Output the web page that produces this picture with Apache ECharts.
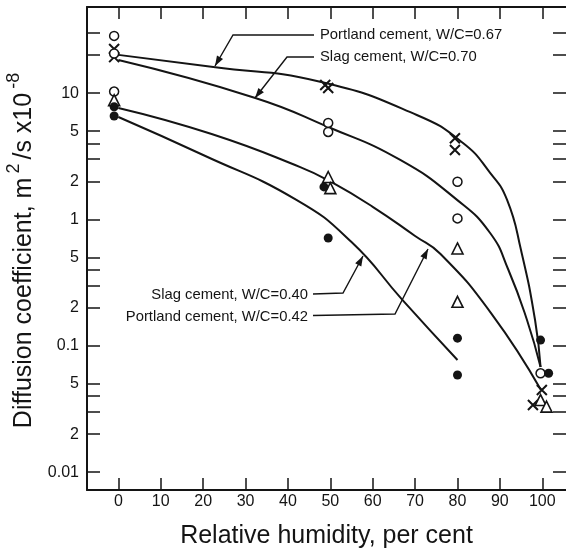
<!DOCTYPE html>
<html><head><meta charset="utf-8">
<script src="https://cdn.jsdelivr.net/npm/echarts@6/dist/echarts.min.js"></script>
<style>html,body{margin:0;padding:0;background:#fff}#c{width:566px;height:548px}</style>
</head><body><div id="c"></div>
<script>
// ---- data ----
const xTicks = [0,10,20,30,40,50,60,70,80,90,100];
const yTicks = [0.01,0.02,0.03,0.04,0.05,0.1,0.2,0.3,0.4,0.5,1,2,3,4,5,10,20,30];
const yLabelValues = [0.01,0.02,0.05,0.1,0.2,0.5,1,2,5,10];
const yLabelTexts = ['0.01','2','5','0.1','2','5','1','2','5','10'];

const seriesNames = ['Portland cement, W/C=0.67','Slag cement, W/C=0.70','Slag cement, W/C=0.40','Portland cement, W/C=0.42'];

const portland067Points = [[-1,22.4],[-1,19.3],[48.8,11.6],[49.5,11.0],[79.4,4.40],[79.4,3.55],[99.9,0.0447],[97.8,0.034]];
const slag070Points = [[-1,28.4],[-1,20.6],[-1,10.3],[49.5,5.81],[49.5,4.93],[80,1.99],[80,1.02],[99.6,0.0606]];
const slag040Points = [[-1,8.8],[49.5,2.17],[50,1.77],[80,0.59],[80,0.223],[99.6,0.0372],[101,0.033]];
const portland042Points = [[-1,7.8],[-1,6.6],[48.5,1.81],[49.5,0.714],[80,0.115],[80,0.0587],[99.6,0.111],[101.5,0.0606]];

const portland067Curve = [[0,20.1],[22.4,16.1],[47.6,12.3],[70.4,6.72],[81.3,4.03],[87.7,2.34],[91.7,1.43],[95,0.57],[98.3,0.160],[99.6,0.068]];
const slag070Curve = [[0,18.3],[32.3,9.17],[49.5,5.40],[66.5,2.96],[79.9,1.43],[87.7,0.782],[92,0.40],[96.4,0.160],[99.6,0.068]];
const slag040Curve = [[0,7.64],[22,4.75],[42.9,2.60],[50,2.0],[60,1.26],[70,0.74],[76,0.533],[88,0.180],[99.7,0.0447]];
const portland042Curve = [[0,6.48],[20,3.24],[42,1.43],[55,0.663],[67,0.231],[80,0.0772]];

// ---- rendering ----
const FONT = '"Liberation Sans", Arial, Helvetica, sans-serif';
const INK = '#141414';
const chart = echarts.init(document.getElementById('c'), null, {renderer: 'canvas'});

const X_MIN = -7.4, X_MAX = 105.6, Y_MIN = 0.00722, Y_MAX = 48.1;

function curve(name, data) {
  return {name: name, type: 'line', data: data, smooth: 0.5,
    showSymbol: false, symbol: 'none', silent: true, z: 2,
    lineStyle: {color: INK, width: 2}};
}
function points(name, data, symbol, size, fill, bw) {
  return {name: name, type: 'scatter', data: data, symbol: symbol, symbolSize: size, z: 3, silent: true,
    itemStyle: {color: fill, borderColor: INK, borderWidth: bw, opacity: 1}};
}

function yFormatter(v) {
  for (let i = 0; i < yLabelValues.length; i++) {
    if (Math.abs(Math.log10(v) - Math.log10(yLabelValues[i])) < 1e-6) return yLabelTexts[i];
  }
  return '';
}

// annotation helpers (pixel layout)
function leader(pts) {
  const els = [];
  els.push({type: 'polyline', shape: {points: pts}, style: {stroke: INK, lineWidth: 1.4, fill: null}, z: 10});
  const tip = pts[pts.length - 1], prev = pts[pts.length - 2];
  let dx = tip[0] - prev[0], dy = tip[1] - prev[1];
  const L = Math.sqrt(dx * dx + dy * dy); dx /= L; dy /= L;
  const len = 10, w = 3.5;
  const cx = tip[0] - dx * len, cy = tip[1] - dy * len;
  els.push({type: 'polygon', shape: {points: [tip, [cx - dy * w, cy + dx * w], [cx + dy * w, cy - dx * w]]},
    style: {fill: INK}, z: 10});
  return els;
}
function label(text, x, y, align) {
  return {type: 'text', x: x, y: y, z: 10,
    style: {text: text, font: '14.8px ' + FONT, fill: INK, align: align, verticalAlign: 'middle',
      textAlign: align, textVerticalAlign: 'middle'}};
}

const graphics = [].concat(
  [label(seriesNames[0], 320, 35, 'left')], leader([[314, 35], [233, 35], [215, 66]]),
  [label(seriesNames[1], 320, 57, 'left')], leader([[314, 57], [287, 57], [255, 98]]),
  [label(seriesNames[2], 308, 295, 'right')], leader([[313, 294], [343, 293], [363, 256]]),
  [label(seriesNames[3], 308, 316.5, 'right')], leader([[313, 315.5], [395, 314], [428, 249]])
);

const option = {
  animation: false,
  backgroundColor: '#fff',
  grid: {left: 87, right: 0, top: 7, bottom: 58, containLabel: false, outerBoundsMode: 'none'},
  xAxis: [
    {type: 'value', min: X_MIN, max: X_MAX, position: 'bottom',
      axisLine: {show: true, onZero: false, lineStyle: {color: INK, width: 2}},
      axisTick: {show: true, inside: true, length: 12, customValues: xTicks, lineStyle: {color: INK, width: 1.5}},
      axisLabel: {customValues: xTicks, margin: 4, fontSize: 16, fontFamily: FONT, color: INK},
      splitLine: {show: false},
      name: 'Relative humidity, per cent', nameLocation: 'middle', nameGap: 34,
      nameTextStyle: {fontSize: 25, fontFamily: FONT, color: INK}},
    {type: 'value', min: X_MIN, max: X_MAX, position: 'top',
      axisLine: {show: true, onZero: false, lineStyle: {color: INK, width: 2}},
      axisTick: {show: true, inside: true, length: 12, customValues: xTicks, lineStyle: {color: INK, width: 1.5}},
      axisLabel: {show: false}, splitLine: {show: false}}
  ],
  yAxis: [
    {type: 'log', logBase: 10, min: Y_MIN, max: Y_MAX, position: 'left',
      axisLine: {show: true, onZero: false, lineStyle: {color: INK, width: 2}},
      axisTick: {show: true, inside: true, length: 13, customValues: yTicks, lineStyle: {color: INK, width: 1.5}},
      minorTick: {show: false},
      axisLabel: {customValues: yLabelValues, formatter: yFormatter, margin: 8, fontSize: 16, fontFamily: FONT, color: INK},
      splitLine: {show: false},
      name: '{a|Diffusion coefficient, m}{s|2}{a|/s x10}{s|-8}', nameLocation: 'middle', nameGap: 35,
      nameTextStyle: {
        rich: {
          a: {fontSize: 25, fontFamily: FONT, color: INK, lineHeight: 32, verticalAlign: 'bottom'},
          s: {fontSize: 18, fontFamily: FONT, color: INK, lineHeight: 18, verticalAlign: 'top', padding: [0, 4, 0, 4]}
        }
      }},
    {type: 'log', logBase: 10, min: Y_MIN, max: Y_MAX, position: 'right',
      axisLine: {show: false, onZero: false},
      axisTick: {show: true, inside: true, length: 13, customValues: yTicks, lineStyle: {color: INK, width: 1.5}},
      minorTick: {show: false},
      axisLabel: {show: false}, splitLine: {show: false}}
  ],
  series: [
    curve(seriesNames[0], portland067Curve),
    curve(seriesNames[1], slag070Curve),
    curve(seriesNames[2], slag040Curve),
    curve(seriesNames[3], portland042Curve),
    points(seriesNames[0], portland067Points, 'path://M0,0L10,10M10,0L0,10', 10, 'rgba(0,0,0,0)', 2),
    points(seriesNames[1], slag070Points, 'circle', 9, '#fff', 1.5),
    points(seriesNames[2], slag040Points, 'triangle', 11, '#fff', 1.6),
    points(seriesNames[3], portland042Points, 'circle', 9, INK, 0)
  ],
  graphic: graphics
};
chart.setOption(option);
</script>
</body></html>
